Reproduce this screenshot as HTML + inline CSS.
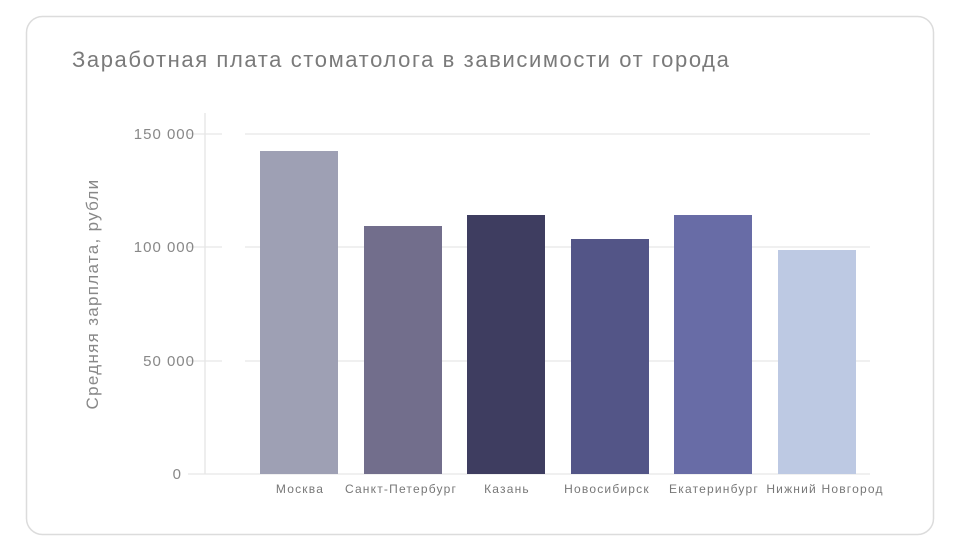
<!DOCTYPE html>
<html><head><meta charset="utf-8"><style>
body{margin:0;background:#fff;}
svg{display:block;font-family:"Liberation Sans",sans-serif;}
</style></head><body>
<svg width="960" height="550" viewBox="0 0 960 550">
<rect x="26.5" y="16.5" width="907" height="518" rx="16" fill="#fff" stroke="#dcdcdc" stroke-width="1.5"/>
<text x="72" y="67" font-size="22" letter-spacing="1.6" fill="#7a7a7a">Заработная плата стоматолога в зависимости от города</text>
<line x1="205" y1="113" x2="205" y2="474" stroke="#ddd"/>
<g stroke="#e6e6e6" stroke-width="1.2">
<line x1="188" y1="134" x2="222" y2="134"/><line x1="245" y1="134" x2="870" y2="134"/>
<line x1="188" y1="247" x2="222" y2="247"/><line x1="245" y1="247" x2="870" y2="247"/>
<line x1="188" y1="361" x2="222" y2="361"/><line x1="245" y1="361" x2="870" y2="361"/>
<line x1="188" y1="474" x2="870" y2="474"/>
</g>
<g font-size="15" letter-spacing="1" fill="#888" text-anchor="end">
<text x="195" y="139">150 000</text>
<text x="195" y="252">100 000</text>
<text x="195" y="366">50 000</text>
<text x="182" y="479">0</text>
</g>
<text transform="translate(98,294) rotate(-90)" font-size="17" letter-spacing="1.3" fill="#888" text-anchor="middle">Средняя зарплата, рубли</text>
<rect x="260" y="151" width="78" height="323" fill="#9ea0b4"/>
<rect x="364" y="226" width="78" height="248" fill="#726e8c"/>
<rect x="467" y="215" width="78" height="259" fill="#3e3d60"/>
<rect x="571" y="239" width="78" height="235" fill="#535587"/>
<rect x="674" y="215" width="78" height="259" fill="#686ca6"/>
<rect x="778" y="250" width="78" height="224" fill="#bdc9e3"/>
<g font-size="12" letter-spacing="1.2" fill="#777" text-anchor="middle">
<text x="300" y="493">Москва</text>
<text x="401" y="493">Санкт-Петербург</text>
<text x="507" y="493">Казань</text>
<text x="607" y="493">Новосибирск</text>
<text x="714" y="493">Екатеринбург</text>
<text x="825" y="493">Нижний Новгород</text>
</g>
</svg>
</body></html>
